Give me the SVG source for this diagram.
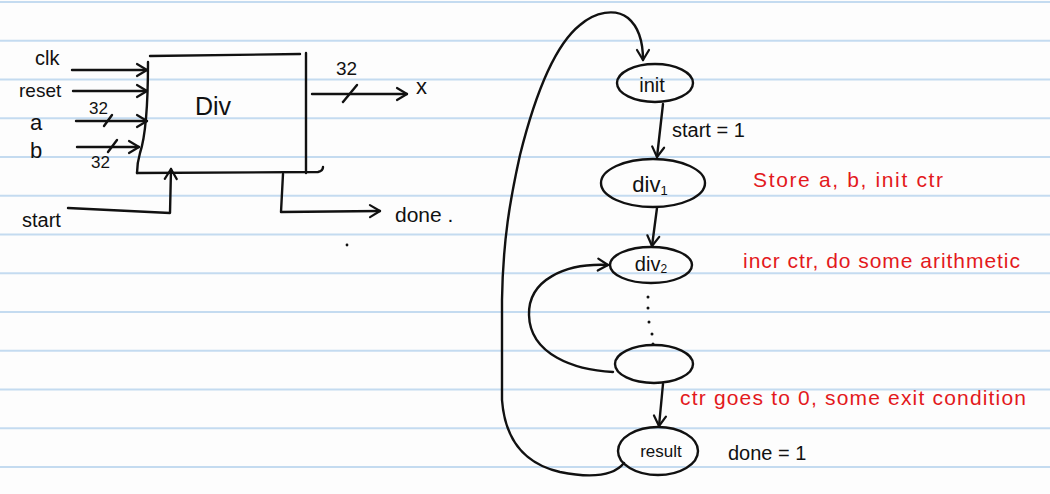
<svg xmlns="http://www.w3.org/2000/svg" width="1050" height="494" viewBox="0 0 1050 494">
<style>
.rule{stroke:#c4dbf0;stroke-width:2}
.ink{fill:none;stroke:#111;stroke-width:2.4;stroke-linecap:round;stroke-linejoin:round}
.arr{marker-end:url(#ah)}
.t{font-family:"Liberation Sans",Arial,sans-serif;fill:#111}
.red{font-family:"Liberation Sans",Arial,sans-serif;fill:#e3191c}
.dot{fill:#111}
</style>
<defs>
<marker id="ah" markerUnits="userSpaceOnUse" markerWidth="16" markerHeight="16" refX="13" refY="8" orient="auto">
<path d="M3,2 L13,8 L3,14" fill="none" stroke="#111" stroke-width="2.2" stroke-linecap="round" stroke-linejoin="round"/>
</marker>
</defs>
<rect x="0" y="0" width="1050" height="494" fill="#fdfdfd"/>
<g id="ruling">
<line class="rule" x1="0" y1="2" x2="1050" y2="2"/>
<line class="rule" x1="0" y1="40.8" x2="1050" y2="40.8"/>
<line class="rule" x1="0" y1="79.5" x2="1050" y2="79.5"/>
<line class="rule" x1="0" y1="118.3" x2="1050" y2="118.3"/>
<line class="rule" x1="0" y1="157" x2="1050" y2="157"/>
<line class="rule" x1="0" y1="195.8" x2="1050" y2="195.8"/>
<line class="rule" x1="0" y1="234.5" x2="1050" y2="234.5"/>
<line class="rule" x1="0" y1="273.3" x2="1050" y2="273.3"/>
<line class="rule" x1="0" y1="312" x2="1050" y2="312"/>
<line class="rule" x1="0" y1="350.8" x2="1050" y2="350.8"/>
<line class="rule" x1="0" y1="389.5" x2="1050" y2="389.5"/>
<line class="rule" x1="0" y1="428.3" x2="1050" y2="428.3"/>
<line class="rule" x1="0" y1="467" x2="1050" y2="467"/>
</g>

<g id="div-block">
<path class="ink" d="M150,56 L300,54"/>
<path class="ink" d="M306,53 L306,173"/>
<path class="ink" d="M137,173 L318,172 Q323,171 323,167"/>
<path class="ink" d="M148,62 C148,100 146,135 140,153 C138,160 137,166 137,173"/>
<text class="t" x="195" y="115" font-size="25">Div</text>
</g>

<g id="labels-left">
<text class="t" x="35" y="65" font-size="20">clk</text>
<text class="t" x="19" y="97" font-size="19">reset</text>
<text class="t" x="89" y="114" font-size="17">32</text>
<text class="t" x="30" y="130" font-size="22">a</text>
<text class="t" x="30" y="158" font-size="22">b</text>
<text class="t" x="91" y="168" font-size="17">32</text>
<text class="t" x="22" y="227" font-size="20">start</text>
<text class="t" x="336" y="75" font-size="19">32</text>
<text class="t" x="416" y="94" font-size="22">x</text>
<text class="t" x="395" y="222" font-size="21">done .</text>
<circle class="dot" cx="347" cy="245" r="1.4"/>
</g>

<g id="state-init">
<ellipse class="ink" cx="655" cy="83" rx="38" ry="19"/>
<text class="t" x="652" y="92" font-size="20" text-anchor="middle">init</text>
</g>
<g id="state-div1">
<ellipse class="ink" cx="653" cy="183" rx="52" ry="24"/>
<text class="t" x="650" y="192" font-size="22" text-anchor="middle">div<tspan font-size="13" dy="3">1</tspan></text>
</g>
<g id="state-div2">
<ellipse class="ink" cx="651" cy="265" rx="41" ry="18"/>
<text class="t" x="651" y="271" font-size="20" text-anchor="middle">div<tspan font-size="12" dy="2">2</tspan></text>
</g>
<g id="state-loop">
<ellipse class="ink" cx="654" cy="364" rx="39" ry="19"/>
</g>
<g id="state-result">
<ellipse class="ink" cx="658" cy="451" rx="40" ry="24"/>
<text class="t" x="661" y="457" font-size="17" text-anchor="middle">result</text>
</g>

<g id="connectors">
<path class="ink arr" d="M72,70 L147,70"/>
<path class="ink arr" d="M73,91 L147,91"/>
<path class="ink arr" d="M76,121 L147,121"/>
<path class="ink" d="M104,126 L112,115"/>
<path class="ink arr" d="M77,147 L139,147"/>
<path class="ink" d="M108,152 L117,140"/>
<path class="ink arr" d="M68,208 L170,213 L171,169"/>
<path class="ink arr" d="M312,94 L407,94"/>
<path class="ink" d="M343,102 L357,85"/>
<path class="ink arr" d="M283,174 L281,212 L380,211"/>

<path class="ink arr" d="M663,104 L657,157"/>
<path class="ink arr" d="M657,208 L652,246"/>
<path class="ink arr" d="M663,384 L659,426"/>
<path class="ink arr" d="M613,372 C575,370 530,355 529,315 C528,280 565,263 608,265"/>
<path class="ink arr" d="M624,463 C612,478 585,477 560,472 C525,464 505,440 502,400 L502,300 C503,240 510,200 520,155 C535,95 555,45 580,25 C595,12 615,8 628,18 C640,28 643,45 643,60"/>
</g>

<g id="fsm-labels">
<text class="t" x="672" y="137" font-size="20">start = 1</text>
<text class="red" x="753" y="187" font-size="21" textLength="190" lengthAdjust="spacing">Store a, b, init ctr</text>
<text class="red" x="743" y="268" font-size="21" textLength="277" lengthAdjust="spacing">incr ctr, do some arithmetic</text>
<text class="red" x="680" y="405" font-size="21" textLength="346" lengthAdjust="spacing">ctr goes to 0, some exit condition</text>
<text class="t" x="728" y="460" font-size="20">done = 1</text>
<circle class="dot" cx="648" cy="297" r="1.5"/>
<circle class="dot" cx="648" cy="308" r="1.5"/>
<circle class="dot" cx="649" cy="322" r="1.5"/>
<circle class="dot" cx="652" cy="334" r="1.5"/>
<circle class="dot" cx="653" cy="344" r="1.5"/>
</g>
</svg>
